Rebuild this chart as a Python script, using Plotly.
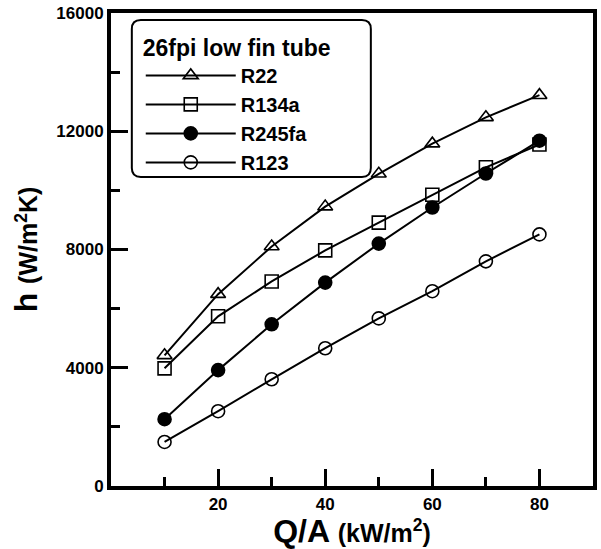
import plotly.graph_objects as go

q_flux = [10, 20, 30, 40, 50, 60, 70, 80]
h_r22 = [4420, 6490, 8100, 9450, 10560, 11580, 12470, 13220]
h_r134a = [3980, 5740, 6920, 7970, 8910, 9850, 10780, 11550]
h_r245fa = [2260, 3920, 5470, 6880, 8200, 9420, 10570, 11680]
h_r123 = [1490, 2530, 3610, 4660, 5670, 6590, 7600, 8510]

series = [
    ("R22", h_r22, "triangle-up-open"),
    ("R134a", h_r134a, "square-open"),
    ("R245fa", h_r245fa, "circle"),
    ("R123", h_r123, "circle-open"),
]

x_ticks = [20, 40, 60, 80]
x_ticktext = ["20", "40", "60", "80"]
x_minor = [10, 30, 50, 70]
y_ticks = [0, 4000, 8000, 12000, 16000]
y_ticktext = ["0", "4000", "8000", "12000", "16000"]
y_minor = [2000, 6000, 10000, 14000]

W, H = 601, 549
ml, mr, mt, mb = 111, 4, 13, 63
pw, ph = W - ml - mr, H - mt - mb

fig = go.Figure()
for name, vals, sym in series:
    fig.add_trace(go.Scatter(
        x=q_flux, y=vals, name=name, mode="lines+markers",
        line=dict(color="black", width=2),
        marker=dict(symbol=sym, size=13, color="black",
                    line=dict(color="black", width=1.6)),
    ))

def px2paper(px, py):
    return (px - ml) / pw, (H - mb - py) / ph

def rounded_rect(x0, y0, x1, y1, r):
    def P(x, y):
        a, b = px2paper(x, y)
        return f"{a:.5f},{b:.5f}"
    return (f"M {P(x0 + r, y0)} L {P(x1 - r, y0)} Q {P(x1, y0)} {P(x1, y0 + r)} "
            f"L {P(x1, y1 - r)} Q {P(x1, y1)} {P(x1 - r, y1)} "
            f"L {P(x0 + r, y1)} Q {P(x0, y1)} {P(x0, y1 - r)} "
            f"L {P(x0, y0 + r)} Q {P(x0, y0)} {P(x0 + r, y0)} Z")

fig.add_shape(type="path", xref="paper", yref="paper",
              path=rounded_rect(132, 20, 373, 177, 9),
              line=dict(color="black", width=2), fillcolor="rgba(0,0,0,0)", layer="below")

lx, ly = px2paper(141, 26)

bold = dict(family="Arial, Liberation Sans, sans-serif", color="black", weight="bold")

fig.update_layout(
    width=W, height=H,
    margin=dict(l=ml, r=mr, t=mt, b=mb),
    plot_bgcolor="white", paper_bgcolor="white",
    showlegend=True,
    legend=dict(
        x=lx, y=ly, xanchor="left", yanchor="top",
        bgcolor="rgba(0,0,0,0)", borderwidth=0,
        font=dict(size=20, **bold),
        title=dict(text="<b>26fpi low fin tube</b>", font=dict(size=23, **bold), side="top"),
        itemwidth=90, tracegroupgap=0,
    ),
    xaxis=dict(
        range=[0, 90], showgrid=False, zeroline=False,
        showline=True, linecolor="black", linewidth=4, mirror=True,
        tickmode="array", tickvals=x_ticks, ticktext=x_ticktext,
        ticks="inside", ticklen=17, tickwidth=3,
        tickcolor="black", tickfont=dict(size=17, **bold),
        minor=dict(tickmode="array", tickvals=x_minor, ticks="inside", ticklen=9,
                   tickwidth=3, tickcolor="black", showgrid=False),
        title=dict(text="<b>Q/A</b> <span style='font-size:25px'><b>(kW/m<sup>2</sup>)</b></span>",
                   font=dict(size=32, **bold), standoff=2),
    ),
    yaxis=dict(
        range=[0, 16000], showgrid=False, zeroline=False,
        showline=True, linecolor="black", linewidth=4, mirror=True,
        tickmode="array", tickvals=y_ticks, ticktext=y_ticktext,
        ticks="inside", ticklen=17, tickwidth=3,
        tickcolor="black", tickfont=dict(size=17, **bold),
        minor=dict(tickmode="array", tickvals=y_minor, ticks="inside", ticklen=9,
                   tickwidth=3, tickcolor="black", showgrid=False),
        title=dict(text="<b>h</b> <span style='font-size:25px'><b>(W/m<sup>2</sup>K)</b></span>",
                   font=dict(size=32, **bold), standoff=10),
    ),
)

fig.write_html("out.html")
